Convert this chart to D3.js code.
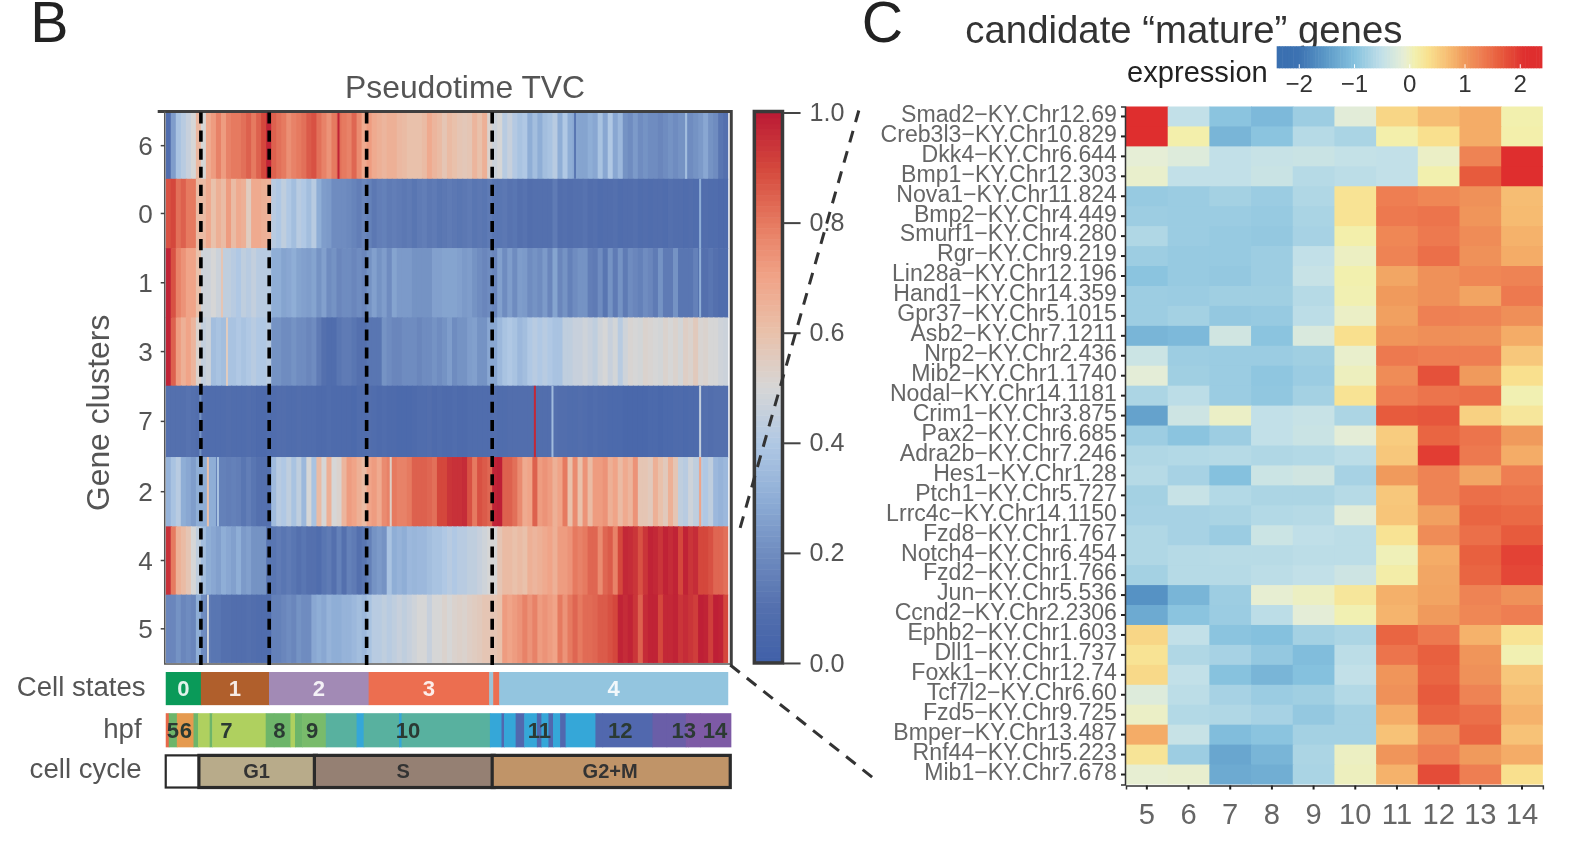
<!DOCTYPE html>
<html><head><meta charset="utf-8">
<script src="https://cdn.jsdelivr.net/npm/d3@7/dist/d3.min.js"></script>
<style>
html,body{margin:0;padding:0;background:#fff}
svg{display:block;filter:blur(.55px)}
text{font-family:"Liberation Sans",Arial,sans-serif}
</style></head><body>
<svg id="c" width="1575" height="846" viewBox="0 0 1568 842.2"></svg>
<script>
// ---- panel B data
const clusters=["6","0","1","3","7","2","4","5"];
const cluster6=[.08,.25,.38,.42,.46,.5,.63,.5,.68,.72,
.78,.72,.78,.8,.8,.82,.85,.8,.85,.9,
.98,.85,.82,.8,.75,.78,.8,.82,.86,.88,
.82,.78,.74,.8,.82,.8,.78,.84,.76,.68,
.72,.68,.66,.64,.66,.66,.63,.62,.6,.6,
.6,.62,.68,.64,.62,.58,.62,.6,.58,.57,
.58,.64,.6,.66,.52,.47,.5,.42,.46,.41,
.38,.4,.3,.36,.3,.36,.38,.42,.3,.4,
.3,.28,.27,.27,.3,.28,.38,.28,.4,.28,
.34,.22,.2,.24,.2,.22,.2,.2,.18,.2,
.22,.2,.22,.22,.2,.22,.24,.28,.22,.2,.12,.1];
const cluster0=[.88,.9,.82,.85,.8,.8,.62,.62,.68,.6,
.66,.62,.72,.62,.68,.66,.55,.68,.68,.66,
.65,.42,.4,.44,.4,.36,.42,.4,.36,.42,
.3,.25,.24,.2,.2,.2,.19,.17,.15,.18,
.16,.13,.15,.16,.14,.15,.14,.13,.14,.12,
.14,.15,.13,.14,.12,.13,.14,.13,.12,.13,
.14,.12,.13,.12,.14,.12,.12,.13,.11,.12,
.1,.11,.09,.1,.1,.1,.1,.14,.09,.1,
.09,.1,.1,.11,.09,.1,.08,.09,.09,.1,
.08,.09,.09,.1,.08,.09,.08,.09,.09,.08,
.1,.09,.09,.08,.09,.08,.08,.09,.08,.08,.07,.07];
const cluster1=[.98,.88,.78,.74,.7,.7,.6,.48,.48,.5,
.47,.44,.44,.42,.4,.44,.42,.45,.42,.42,
.42,.3,.3,.27,.28,.3,.27,.26,.25,.27,
.22,.26,.2,.22,.18,.2,.2,.18,.2,.18,
.22,.26,.22,.25,.2,.27,.24,.24,.24,.22,
.22,.22,.22,.26,.26,.27,.27,.27,.26,.24,
.25,.22,.2,.18,.2,.18,.26,.2,.25,.2,
.25,.24,.2,.22,.2,.24,.18,.27,.18,.22,
.16,.2,.22,.22,.15,.14,.2,.12,.22,.14,
.22,.14,.2,.18,.16,.2,.18,.14,.22,.14,
.14,.22,.12,.12,.12,.16,.1,.1,.12,.1,.08,.08];
const cluster3=[.98,.85,.72,.66,.7,.64,.52,.45,.47,.36,
.38,.36,.38,.38,.4,.38,.4,.42,.4,.4,
.42,.22,.22,.2,.2,.22,.2,.2,.18,.2,
.14,.1,.08,.08,.12,.14,.14,.12,.1,.1,
.12,.12,.12,.22,.2,.18,.18,.2,.2,.2,
.18,.2,.2,.22,.2,.22,.25,.2,.22,.22,
.25,.26,.22,.22,.28,.28,.34,.38,.4,.38,
.34,.36,.4,.42,.4,.42,.4,.38,.38,.44,
.44,.46,.46,.48,.46,.44,.48,.5,.46,.49,
.42,.48,.51,.5,.49,.52,.51,.5,.49,.52,
.5,.52,.49,.54,.52,.56,.51,.52,.5,.5,.48,.47];
const cluster7=[.1,.1,.1,.1,.11,.1,.09,.09,.08,.08,
.08,.08,.09,.08,.08,.08,.09,.08,.07,.07,
.08,.08,.09,.09,.08,.08,.09,.08,.08,.08,
.07,.07,.08,.07,.07,.07,.07,.06,.08,.08,
.09,.08,.07,.08,.07,.07,.06,.06,.06,.07,
.08,.08,.09,.07,.08,.07,.07,.08,.07,.07,
.08,.08,.08,.08,.08,.09,.08,.08,.09,.09,
.09,.09,.09,.09,.09,.09,.09,.1,.09,.09,
.08,.08,.09,.08,.07,.08,.07,.07,.06,.06,
.06,.05,.05,.05,.05,.05,.06,.06,.05,.06,
.06,.07,.07,.06,.07,.07,.09,.1,.09,.1,.1,.1];
const cluster2=[.32,.38,.42,.3,.28,.25,.3,.3,.3,.3,
.16,.16,.15,.16,.15,.12,.15,.12,.1,.1,
.1,.35,.42,.4,.44,.38,.44,.34,.5,.38,
.62,.5,.66,.5,.52,.64,.72,.7,.66,.62,
.7,.72,.68,.76,.78,.8,.78,.78,.8,.85,
.85,.85,.84,.82,.9,.9,.94,.95,.95,.96,
.88,.8,.88,.86,.84,.98,.99,.85,.85,.82,
.76,.68,.7,.85,.72,.74,.72,.66,.7,.8,
.6,.76,.6,.74,.62,.72,.72,.74,.66,.7,
.62,.68,.64,.74,.58,.58,.56,.66,.6,.56,
.66,.58,.44,.42,.48,.44,.42,.4,.44,.34,.32,.34];
const cluster4=[.95,.8,.66,.62,.58,.5,.44,.36,.3,.28,
.26,.3,.28,.26,.3,.24,.26,.22,.22,.22,
.12,.12,.14,.12,.14,.12,.1,.12,.1,.1,
.08,.12,.14,.1,.16,.1,.16,.14,.1,.12,
.16,.22,.24,.22,.38,.3,.32,.3,.34,.33,
.34,.34,.36,.38,.38,.4,.42,.4,.42,.42,
.44,.44,.46,.48,.5,.5,.58,.62,.62,.6,
.62,.6,.66,.64,.66,.68,.7,.66,.72,.72,
.74,.8,.78,.8,.84,.84,.76,.84,.86,.78,
.9,.97,.96,.94,.88,.94,.98,.97,.94,.98,
.96,.98,.9,.98,.94,.96,.9,.9,.88,.84,.84,.82];
const cluster5=[.18,.18,.22,.18,.2,.18,.3,.2,.14,.12,
.12,.1,.1,.09,.09,.09,.1,.09,.08,.08,
.08,.16,.16,.18,.2,.18,.22,.2,.2,.28,
.3,.28,.32,.3,.3,.32,.32,.34,.36,.34,
.38,.42,.42,.44,.42,.44,.46,.44,.46,.48,
.5,.5,.46,.5,.5,.52,.5,.52,.53,.52,
.54,.55,.56,.58,.58,.58,.6,.72,.7,.72,
.74,.78,.74,.78,.72,.74,.72,.7,.8,.74,
.8,.84,.8,.83,.83,.84,.86,.86,.88,.9,
.98,.96,.98,.94,.85,.96,.98,.98,.9,.97,
.97,.98,.94,.96,.94,.92,.99,.98,.92,.99,.98,.9];
const clusterValues=[cluster6,cluster0,cluster1,cluster3,cluster7,cluster2,cluster4,cluster5];
// single narrow cells that are thinner than one column
const thinCluster=["7","7","7","7","0","1","6","6","6","5","2","2","2","2","3","1"];
const thinColumn=[73.3,76.8,106.2,6.7,106.2,106.2,34.2,81.3,103.4,8.2,8.2,10.2,44.6,106.2,12,11];
const thinValue=[.97,.35,.45,.22,.3,.3,.98,.12,.36,.48,.6,.38,.54,.7,.55,.58];
const pseudoBreaks=[7,20.6,40,65];
const colorTicks=[0,.2,.4,.6,.8,1];

const stateNames=["0","1","2","3","","","4"];
const stateEnds=[7,20.56,40.4,64.4,65.2,66.4,112];
const hpfLengths=[.6,1.6,3.3,.9,2.3,.5,10.6,1.6,3.3,.9,1.4,4.7,6.1,1.4,7,.5,17.5,2.3,.5,2.3,1.7,2.5,.9,1.4,.9,1.4,1.1,5.9,1.4,9.9,2.8,3.8,.5,2.3,6.1];
const hpfRunHours=[5,8,6,8,7,8,7,8,8,7,8,9,10,11,10,11,10,11,12,11,12,11,12,11,12,11,12,11,12,12,13,13,14,14,14];
const hpfLabels=["5","6","7","8","9","10","11","12","13","14"];
const hpfLabelPos=[1.4,4,12,22.5,29,48,74,90,102.6,108.8];
const cycleNames=["","G1","S","G2+M"];
const cycleEnds=[6.6,29.6,65,112];

// ---- panel C data
const genes=["Smad2−KY.Chr12.69","Creb3l3−KY.Chr10.829","Dkk4−KY.Chr6.644","Bmp1−KY.Chr12.303","Nova1−KY.Chr11.824","Bmp2−KY.Chr4.449","Smurf1−KY.Chr4.280","Rgr−KY.Chr9.219","Lin28a−KY.Chr12.196","Hand1−KY.Chr14.359","Gpr37−KY.Chr5.1015","Asb2−KY.Chr7.1211","Nrp2−KY.Chr2.436","Mib2−KY.Chr1.1740","Nodal−KY.Chr14.1181","Crim1−KY.Chr3.875","Pax2−KY.Chr6.685","Adra2b−KY.Chr7.246","Hes1−KY.Chr1.28","Ptch1−KY.Chr5.727","Lrrc4c−KY.Chr14.1150","Fzd8−KY.Chr1.767","Notch4−KY.Chr6.454","Fzd2−KY.Chr1.766","Jun−KY.Chr5.536","Ccnd2−KY.Chr2.2306","Ephb2−KY.Chr1.603","Dll1−KY.Chr1.737","Foxk1−KY.Chr12.74","Tcf7l2−KY.Chr6.60","Fzd5−KY.Chr9.725","Bmper−KY.Chr13.487","Rnf44−KY.Chr5.223","Mib1−KY.Chr7.678"];
const hours=[5,6,7,8,9,10,11,12,13,14];
const expression=[
[2.2,-.5,-.95,-1.1,-.8,-.15,.45,.7,.85,.1],
[2.2,.12,-1.15,-.95,-.6,-.7,.12,.35,.85,.12],
[-.1,-.2,-.5,-.45,-.42,-.48,-.5,-.02,1.25,2.2],
[-.05,-.5,-.5,-.42,-.6,-.55,-.5,.1,1.65,2.25],
[-.85,-.82,-.75,-.82,-.65,.3,1.3,1.2,1.1,.7],
[-.8,-.82,-.82,-.85,-.7,.3,1.35,1.4,1.05,.72],
[-.65,-.82,-.85,-.88,-.72,.12,1.2,1.35,1.15,.8],
[-.8,-.85,-.85,-.8,-.5,0,1.25,1.45,1.1,.85],
[-.95,-.85,-.88,-.8,-.45,.1,.9,1.1,1.2,1.25],
[-.8,-.82,-.78,-.78,-.6,.08,1,1.1,.92,1.35],
[-.8,-.75,-.88,-.85,-.55,-.02,.95,1.28,1.25,1.12],
[-1.15,-1.1,-.35,-.95,-.25,.35,1.05,1.12,1.1,.85],
[-.4,-.8,-.82,-.82,-.78,-.05,1.35,1.3,1.3,.6],
[-.12,-.78,-.82,-.92,-.82,.02,1.15,1.75,1,.35],
[-.68,-.55,-.82,-.9,-.75,.3,1.3,1.4,1.45,.08],
[-1.4,-.38,-.02,-.5,-.45,-.68,1.65,1.7,.5,.25],
[-.8,-.95,-.8,-.5,-.42,-.12,.55,1.55,1.4,1],
[-.65,-.62,-.6,-.65,-.62,-.55,.6,1.95,1.35,.85],
[-.6,-.72,-1,-.4,-.35,-.72,1,1.25,.9,1.3],
[-.75,-.45,-.62,-.68,-.68,-.6,.6,1.25,1.45,1.4],
[-.72,-.72,-.7,-.62,-.6,-.15,.62,.95,1.55,1.5],
[-.65,-.72,-.82,-.4,-.52,-.55,.3,1.15,1.45,1.65],
[-.65,-.6,-.58,-.58,-.55,-.55,.05,.85,1.6,1.9],
[-.75,-.6,-.6,-.55,-.5,-.38,.15,.9,1.55,1.85],
[-1.6,-1.15,-.8,-.08,0,.25,.82,.92,1.25,1.1],
[-1.3,-.95,-.82,-.55,-.12,.08,.78,1,1.2,1.3],
[.45,-.5,-.95,-1,-.75,-.68,1.55,1.35,.8,.3],
[.3,-.65,-.72,-.88,-1.05,-.55,1.4,1.6,1.05,.08],
[.42,-.5,-.98,-1.15,-1,-.5,1.05,1.55,1.1,.6],
[-.2,-.55,-.72,-.82,-.78,-.62,1.1,1.65,1.25,.7],
[-.02,-.62,-.65,-.72,-.88,-.75,.85,1.55,1.45,.8],
[.85,-.45,-1.05,-.95,-.75,-.75,.65,1.1,1.55,.65],
[.28,-.8,-1.35,-1.15,-.68,0,1.05,1.3,1,.85],
[-.08,-.06,-1.3,-1.25,-.7,.02,.8,1.8,1.3,.35]];
const legendTicks=[-2,-1,0,1,2];

// ---- drawing
const svg=d3.select("#c");
const ink="#555";
const cool=d3.scaleLinear().domain([0,.1,.2,.3,.4,.5,.6,.7,.8,.9,1])
 .range(["#4060a8","#5470ae","#6f8cc0","#8faed6","#b0c8e4","#d6d6d6","#e9c1ab","#f0a488","#e67a60","#d4473c","#bb1a35"]);
const heat=d3.scaleLinear().domain([-2.4,-2,-1.5,-1,-.5,-.1,.1,.35,.75,1,1.3,1.6,2.1,2.4])
 .range(["#3a6fb0","#3c72b2","#5d9ac8","#85c1de","#c2e0e8","#e6eed6","#f2f0ae","#f9e08e","#f6b86f","#f09a5c","#ee7e52","#e8603f","#df2e2e","#df2e2e"]).clamp(true);

const X=d3.scaleLinear().domain([0,112]).range([165,725]);
const XH=d3.scaleLinear().domain([0,112]).range([165,728]);
const rowEdges=[112,178,247,316,384,455,524,592,660];
const rowTop=d3.scaleOrdinal().domain(clusters).range(rowEdges.slice(0,8));
const rowBot=d3.scaleOrdinal().domain(clusters).range(rowEdges.slice(1));

const gB=svg.append("g");
clusters.forEach((c,i)=>{
 gB.append("g").selectAll("rect").data(clusterValues[i]).join("rect")
  .attr("x",(d,j)=>X(j)).attr("width",(d,j)=>j===111?X(112)-X(111):X(j+1)-X(j)+1.2)
  .attr("y",rowTop(c)).attr("height",rowBot(c)-rowTop(c)+(i<7?.6:0))
  .attr("fill",d=>cool(d));
});
gB.append("g").selectAll("rect").data(thinValue).join("rect")
 .attr("x",(d,j)=>X(thinColumn[j])).attr("width",X(.4)-X(0))
 .attr("y",(d,j)=>rowTop(thinCluster[j])).attr("height",(d,j)=>rowBot(thinCluster[j])-rowTop(thinCluster[j]))
 .attr("fill",d=>cool(d));
// frame
svg.append("path").attr("d",`M157,111H728V662`).attr("fill","none").attr("stroke","#3f3f3f").attr("stroke-width",3);
svg.append("path").attr("d",`M164,111V661H727`).attr("fill","none").attr("stroke","#555").attr("stroke-width",1.5);
// breaks
svg.append("g").selectAll("line").data(pseudoBreaks).join("line")
 .attr("x1",d=>X(d)).attr("x2",d=>X(d)).attr("y1",112).attr("y2",662)
 .attr("stroke","#000").attr("stroke-width",3.6).attr("stroke-dasharray","11 7");
// cluster labels
clusters.forEach(c=>{
 svg.append("text").attr("x",152).attr("y",(rowTop(c)+rowBot(c))/2+9).attr("text-anchor","end")
  .attr("font-size",26).attr("fill",ink).text(c);
 svg.append("line").attr("x1",160).attr("x2",164).attr("y1",(rowTop(c)+rowBot(c))/2).attr("y2",(rowTop(c)+rowBot(c))/2).attr("stroke","#444").attr("stroke-width",1.5);
});
svg.append("text").attr("x",463).attr("y",98).attr("text-anchor","middle").attr("font-size",31.7).attr("fill",ink).text("Pseudotime TVC");
svg.append("text").attr("transform","translate(109,411) rotate(-90)").attr("text-anchor","middle").attr("font-size",31.7).attr("fill",ink).text("Gene clusters");
svg.append("text").attr("x",30).attr("y",42).attr("font-size",57).attr("fill","#222").text("B");
svg.append("text").attr("x",858).attr("y",42).attr("font-size",57).attr("fill","#222").text("C");

// cell states
const stateColors=["#0a9a59","#b05f2c","#a28ab5","#ec6e50","#9cc4d8","#ec6e50","#93c5df"];
const gS=svg.append("g");
stateEnds.forEach((e,i)=>{
 const s=i?stateEnds[i-1]:0;
 gS.append("rect").attr("x",X(s)).attr("width",X(e)-X(s)+(i<6?.6:0)).attr("y",669).attr("height",33).attr("fill",stateColors[i]);
 if(stateNames[i]) gS.append("text").attr("x",X((s+e)/2)).attr("y",693).attr("text-anchor","middle").attr("font-size",22).attr("font-weight","bold").attr("fill","#fff").attr("fill-opacity",.88).text(stateNames[i]);
});
// hpf
const hpfColor=d3.scaleOrdinal().domain([5,6,7,8,9,10,11,12,13,14]).range(["#e8694a","#e59a4f","#afd05f","#6db56a","#79bb6b","#58b19f","#35a7d8","#5168ae","#6a5ea8","#7d5aa5"]);
let acc=0;
const gH=svg.append("g");
hpfRunHours.forEach((h,i)=>{
 gH.append("rect").attr("x",XH(acc)).attr("width",XH(hpfLengths[i])-XH(0)+.6).attr("y",710).attr("height",34).attr("fill",hpfColor(h));
 acc+=hpfLengths[i];
});
hpfLabels.forEach((l,i)=>gH.append("text").attr("x",XH(hpfLabelPos[i])).attr("y",735).attr("text-anchor","middle").attr("font-size",22).attr("font-weight","bold").attr("fill","#2b3a33").text(l));
// cycle
const cycleColors=["#fff","#b8ab8a","#958073","#c09468"];
const gC=svg.append("g");
cycleEnds.forEach((e,i)=>{
 const s=i?cycleEnds[i-1]:0;
 gC.append("rect").attr("x",X(s)).attr("width",X(e)-X(s)+2).attr("y",752).attr("height",32).attr("fill",cycleColors[i]).attr("stroke","#2a2a2a").attr("stroke-width",i?3.2:2.2);
 if(cycleNames[i]) gC.append("text").attr("x",X((s+e)/2)).attr("y",775).attr("text-anchor","middle").attr("font-size",20).attr("font-weight","bold").attr("fill","#333").text(cycleNames[i]);
});
[["Cell states",145,693],["hpf",141,735],["cell cycle",141,775]].forEach(t=>svg.append("text").attr("x",t[1]).attr("y",t[2]).attr("text-anchor","end").attr("font-size",27.5).attr("fill",ink).text(t[0]));

// colorbar
const CB=d3.scaleLinear().domain([0,1]).range([660,112]);
svg.append("g").selectAll("rect").data(d3.range(0,1,.01)).join("rect")
 .attr("x",750).attr("width",30).attr("y",d=>CB(d+.01)).attr("height",d=>CB(d)-CB(d+.01)+.5).attr("fill",d=>cool(d+.005));
svg.append("rect").attr("x",751).attr("y",111).attr("width",28).attr("height",549).attr("fill","none").attr("stroke","#3a3a3a").attr("stroke-width",3.5);
const cbAxis=svg.append("g").attr("transform","translate(780,0)").call(d3.axisRight(CB).tickValues(colorTicks).tickFormat(d3.format(".1f")).tickSize(17).tickPadding(9));
cbAxis.select(".domain").remove();
cbAxis.selectAll("line").attr("stroke","#444").attr("stroke-width",2);
cbAxis.selectAll("text").attr("font-size",25).attr("fill",ink).attr("font-family","Liberation Sans");

// zoom lines
const zoomLine=d3.line();
[[[855,110],[735,532]],[[727,662],[870,775]]].forEach(p=>svg.append("path").attr("d",zoomLine(p)).attr("fill","none").attr("stroke","#333").attr("stroke-width",3).attr("stroke-dasharray","12 9"));

// panel C
const cx=d3.scaleBand().domain(hours).range([1121,1536]);
const cy=d3.scaleBand().domain(genes).range([106,781]);
const gM=svg.append("g");
genes.forEach((g,i)=>{
 gM.append("g").selectAll("rect").data(expression[i]).join("rect")
  .attr("x",(d,j)=>cx(hours[j])).attr("y",cy(g)).attr("width",(d,j)=>cx.bandwidth()+(j<9?.8:0)).attr("height",cy.bandwidth()+(i<33?.8:0)).attr("fill",d=>heat(d));
});
const ay=svg.append("g").attr("transform","translate(1120,0)").call(d3.axisLeft(cy).tickSize(4).tickPadding(4));
ay.select(".domain").attr("stroke","#333").attr("stroke-width",1.5);
ay.selectAll("line").attr("stroke","#222").attr("stroke-width",2);
ay.selectAll("text").attr("font-size",23).attr("fill","#666").attr("font-family","Liberation Sans").attr("dy","0.23em");
const ax=svg.append("g").attr("transform","translate(0,782)").call(d3.axisBottom(cx).tickSize(4).tickPadding(14));
ax.select(".domain").attr("stroke","#333").attr("stroke-width",1.5);
ax.selectAll("line").attr("stroke","#222").attr("stroke-width",2);
ax.selectAll("text").attr("font-size",29).attr("fill","#666").attr("font-family","Liberation Sans");

svg.append("text").attr("x",961).attr("y",43).attr("font-size",38.2).attr("fill","#333").text("candidate “mature” genes");
svg.append("text").attr("x",1122).attr("y",82).attr("font-size",29).attr("fill","#222").text("expression");
// legend
const L=d3.scaleLinear().domain([-2,2]).range([1293,1513]);
svg.append("g").selectAll("rect").data(d3.range(-2.4,2.4,.05)).join("rect")
 .attr("x",d=>L(d)).attr("width",L(.06)-L(0)).attr("y",46).attr("height",22).attr("fill",d=>heat(d+.025));
const la=svg.append("g").attr("transform","translate(0,68)").call(d3.axisBottom(L).tickValues(legendTicks).tickFormat(d=>String(d).replace("-","−")).tickSize(-4).tickPadding(7));
la.select(".domain").remove();
la.selectAll("line").attr("stroke","#fff").attr("stroke-width",1);
la.selectAll("text").attr("font-size",24).attr("fill","#333").attr("font-family","Liberation Sans");
</script>
</body></html>
